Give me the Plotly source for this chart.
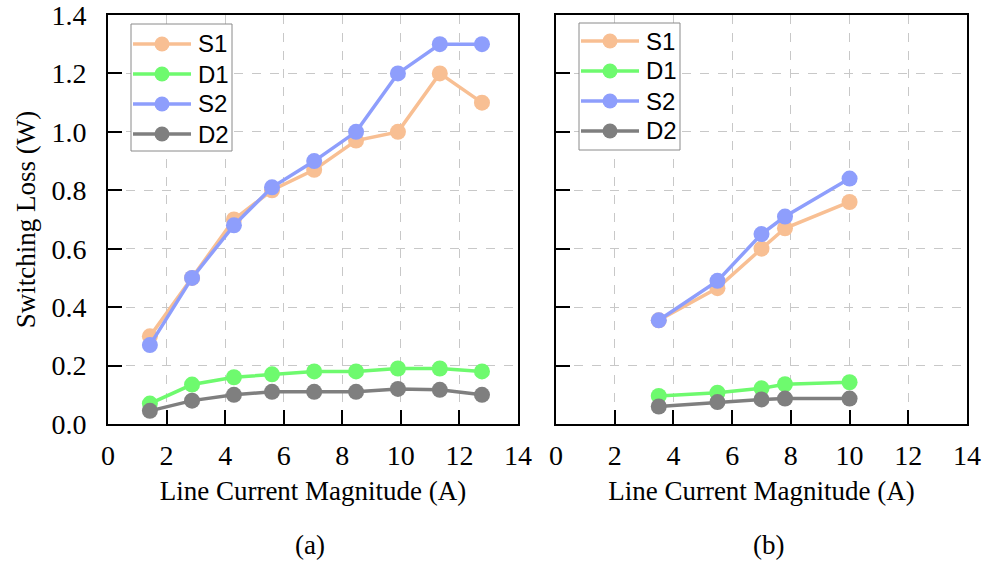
import plotly.graph_objects as go

# Panel (a): measured switching loss vs. line current
current_a = [1.43, 2.87, 4.3, 5.6, 7.04, 8.47, 9.9, 11.33, 12.77]
s1_a = [0.30, 0.50, 0.70, 0.80, 0.87, 0.97, 1.00, 1.20, 1.10]
d1_a = [0.07, 0.135, 0.16, 0.17, 0.18, 0.18, 0.19, 0.19, 0.18]
s2_a = [0.27, 0.50, 0.68, 0.81, 0.90, 1.00, 1.20, 1.30, 1.30]
d2_a = [0.045, 0.08, 0.10, 0.11, 0.11, 0.11, 0.12, 0.117, 0.10]

# Panel (b)
current_b = [3.5, 5.5, 7.0, 7.8, 10.0]
s1_b = [0.355, 0.465, 0.60, 0.67, 0.76]
d1_b = [0.096, 0.107, 0.122, 0.136, 0.143]
s2_b = [0.355, 0.49, 0.65, 0.71, 0.84]
d2_b = [0.06, 0.075, 0.084, 0.087, 0.087]

x_ticks = [0, 2, 4, 6, 8, 10, 12, 14]
y_ticks = [0.0, 0.2, 0.4, 0.6, 0.8, 1.0, 1.2, 1.4]
y_tick_text = ["0.0", "0.2", "0.4", "0.6", "0.8", "1.0", "1.2", "1.4"]

names = ["S1", "D1", "S2", "D2"]
colors = ["#F8BF93", "#6EFA6E", "#8E9EFC", "#7F7F7F"]

W, H = 985, 562
fig = go.Figure()

series = {
    1: (current_a, [s1_a, d1_a, s2_a, d2_a]),
    2: (current_b, [s1_b, d1_b, s2_b, d2_b]),
}

for panel, (xs, ys_list) in series.items():
    axis_sfx = "" if panel == 1 else "2"
    for name, color, ys in zip(names, colors, ys_list):
        fig.add_trace(go.Scatter(
            x=xs, y=ys, name=name, mode="lines+markers",
            line=dict(color=color, width=3.5),
            marker=dict(color=color, size=16),
            xaxis="x" + axis_sfx, yaxis="y" + axis_sfx,
            showlegend=False,
        ))

# Plot-area positions in pixels
left_px = (108, 518)
right_px = (556, 967)
top_px, bottom_px = 15, 424


def px_x(px):
    return px / W


def px_y(py):
    return 1 - py / H


ydom = [px_y(bottom_px), px_y(top_px)]

serif = "Liberation Serif, Times New Roman, serif"
sans = "Liberation Sans, Arial, sans-serif"
TICK_FS = 28
TITLE_FS = 27

common_x = dict(
    range=[0, 14], tickvals=x_ticks, ticks="inside", ticklen=14, tickwidth=1.5,
    tickcolor="black", showline=True, linecolor="black", linewidth=2, mirror=True,
    showgrid=True, gridcolor="#c8c8c8", griddash="dash", gridwidth=1,
    zeroline=False, tickfont=dict(family=serif, size=TICK_FS, color="black"),
    title=dict(text="Line Current Magnitude (A)",
               font=dict(family=serif, size=TITLE_FS, color="black"), standoff=12),
    ticklabelstandoff=5, ticklabeloverflow="allow", automargin=False,
)
common_y = dict(
    range=[0, 1.4], tickvals=y_ticks, ticktext=y_tick_text, ticks="inside", ticklen=14,
    tickwidth=1.5, tickcolor="black", showline=True, linecolor="black", linewidth=2,
    mirror=True, showgrid=True, gridcolor="#c8c8c8", griddash="dash", gridwidth=1,
    zeroline=False, tickfont=dict(family=serif, size=TICK_FS, color="black"),
    ticklabelstandoff=14, ticklabeloverflow="allow", automargin=False,
)

fig.update_layout(
    width=W, height=H,
    margin=dict(l=0, r=0, t=0, b=0, autoexpand=False),
    paper_bgcolor="white", plot_bgcolor="white",
    xaxis=dict(domain=[px_x(left_px[0]), px_x(left_px[1])], anchor="y", **common_x),
    yaxis=dict(domain=ydom, anchor="x",
               title=dict(text="Switching Loss (W)",
                          font=dict(family=serif, size=TITLE_FS, color="black"), standoff=8),
               **common_y),
    xaxis2=dict(domain=[px_x(right_px[0]), px_x(right_px[1])], anchor="y2", **common_x),
    yaxis2=dict(domain=ydom, anchor="x2", showticklabels=False, **common_y),
    showlegend=False,
)

# Boxed legend in each panel: sample line with a centred dot, then the series name
legend_boxes = [
    # box left, box top, box right, box bottom, line start, line end, first row y
    (131, 24, 232, 151, 133, 191, 44),
    (579, 23, 680, 150, 581, 639, 41),
]
ROW_STEP = 30
for bx0, by0, bx1, by1, lx0, lx1, row0 in legend_boxes:
    fig.add_shape(type="rect", xref="paper", yref="paper",
                  x0=px_x(bx0), x1=px_x(bx1), y0=px_y(by1), y1=px_y(by0),
                  line=dict(color="#8a8a8a", width=1), fillcolor="white", layer="above")
    for i, (name, color) in enumerate(zip(names, colors)):
        ry = row0 + i * ROW_STEP
        fig.add_shape(type="line", xref="paper", yref="paper",
                      x0=px_x(lx0), x1=px_x(lx1), y0=px_y(ry), y1=px_y(ry),
                      line=dict(color=color, width=3.5), layer="above")
        fig.add_shape(type="circle", xref="paper", yref="paper",
                      xsizemode="pixel", ysizemode="pixel",
                      xanchor=px_x((lx0 + lx1) / 2), yanchor=px_y(ry),
                      x0=-7.5, x1=7.5, y0=-7.5, y1=7.5,
                      line=dict(width=0), fillcolor=color, layer="above")
        fig.add_annotation(text=name, xref="paper", yref="paper",
                           x=px_x(lx1 + 5), y=px_y(ry), xanchor="left", yanchor="middle",
                           showarrow=False, font=dict(family=sans, size=24, color="black"))

# Panel captions
for label, cx in (("(a)", 310), ("(b)", 768)):
    fig.add_annotation(text=label, x=px_x(cx), y=px_y(545), xref="paper", yref="paper",
                       showarrow=False, font=dict(family=serif, size=TITLE_FS, color="black"),
                       xanchor="center", yanchor="middle")

fig.write_html("out.html")
